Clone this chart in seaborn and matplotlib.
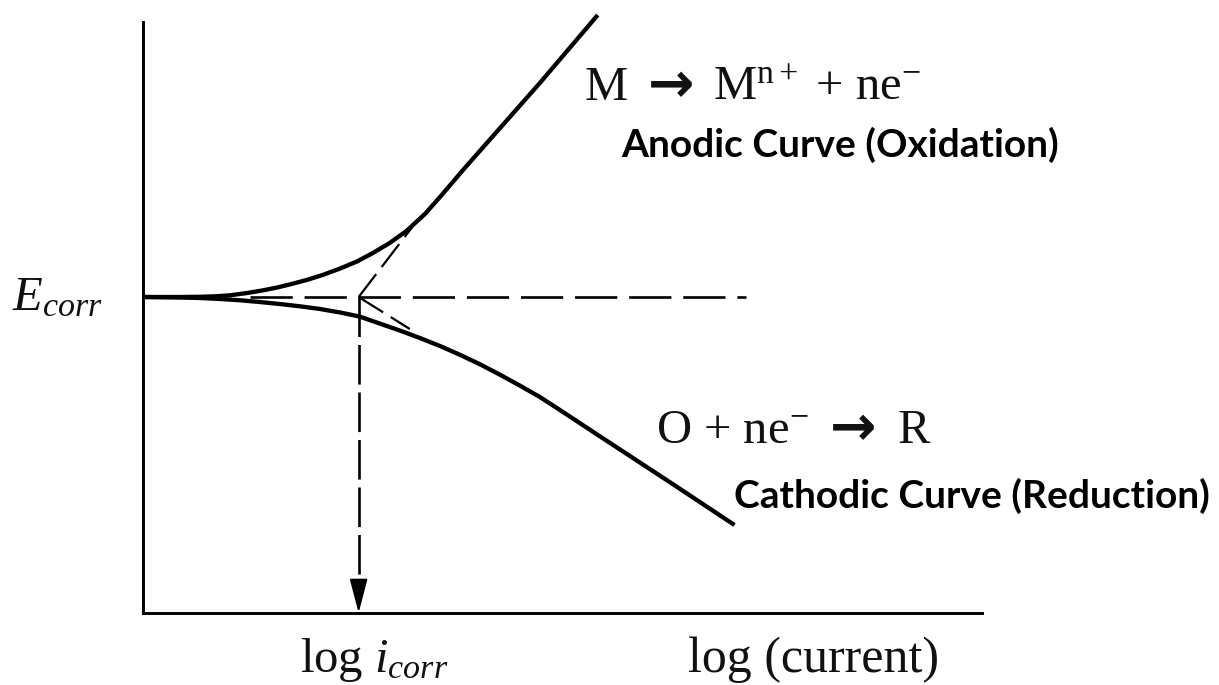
import matplotlib
matplotlib.use("Agg")
import matplotlib.pyplot as plt
import seaborn as sns

sns.set_theme(style="white")
plt.rcParams["mathtext.fontset"] = "custom"
plt.rcParams["mathtext.rm"] = "Liberation Serif"
plt.rcParams["mathtext.it"] = "Liberation Serif:italic"
plt.rcParams["mathtext.bf"] = "Liberation Serif:bold"

# Polarisation curves: x = log(current), y = potential relative to E_corr
anodic_x = [0.0, 0.44, 0.68, 0.86, 1.04, 1.24, 1.42, 1.60, 1.77, 1.95, 2.14,
            2.35, 2.55, 2.74, 2.94, 3.14, 3.36, 3.54, 3.83, 4.13, 4.73, 5.42]
anodic_y = [0.0, 0.0, 0.002, 0.007, 0.017, 0.04, 0.065, 0.095, 0.13, 0.17, 0.22,
            0.285, 0.355, 0.44, 0.54, 0.66, 0.83, 1.00, 1.285, 1.57, 2.14, 2.82]

cathodic_x = [0.0, 0.44, 0.68, 0.92, 1.16, 1.39, 1.63, 1.87, 2.11, 2.35, 2.58,
              2.82, 3.06, 3.30, 3.54, 3.77, 4.01, 4.25, 4.49, 4.73, 4.96, 5.44,
              6.24, 7.05]
cathodic_y = [0.0, -0.005, -0.01, -0.02, -0.033, -0.05, -0.07, -0.093, -0.12,
              -0.155, -0.195, -0.265, -0.335, -0.41, -0.49, -0.575, -0.67, -0.775,
              -0.885, -1.00, -1.125, -1.39, -1.83, -2.28]

e_corr = 0.0
log_i_corr = 2.57

# Tafel extrapolations back to the corrosion point
anodic_tafel_x = [log_i_corr, 3.21]
anodic_tafel_y = [e_corr, 0.70]
cathodic_tafel_x = [log_i_corr, 3.18]
cathodic_tafel_y = [e_corr, -0.32]

# Horizontal E_corr guide
ecorr_line_x = [1.27, 7.19]

x_lim = (0.0, 10.0)
y_lim = (-3.16, 2.75)

W, H = 1219, 685
fig = plt.figure(figsize=(W / 100, H / 100), dpi=100)
fig.patch.set_facecolor("white")
ax = fig.add_axes([143 / W, (H - 613) / H, (982 - 143) / W, (613 - 22) / H])
ax.set_facecolor("white")
ax.set_xlim(*x_lim)
ax.set_ylim(*y_lim)

curve_kw = dict(ax=ax, color="black", lw=3.1, sort=False, estimator=None,
                clip_on=False, solid_capstyle="butt", solid_joinstyle="round")
sns.lineplot(x=anodic_x, y=anodic_y, **curve_kw)
sns.lineplot(x=cathodic_x, y=cathodic_y, **curve_kw)

ax.plot(ecorr_line_x, [e_corr, e_corr], color="black", lw=1.9,
        linestyle=(0, (16, 4.5)))
ax.plot(anodic_tafel_x, anodic_tafel_y, color="black", lw=1.6,
        linestyle=(0, (13, 4)))
ax.plot(cathodic_tafel_x, cathodic_tafel_y, color="black", lw=1.6,
        linestyle=(0, (13, 4)))

# Vertical drop from the intersection to the current axis
arrow_start = y_lim[0] + 0.30
ax.plot([log_i_corr, log_i_corr], [e_corr, arrow_start], color="black", lw=1.9,
        linestyle=(0, (15, 3)))
ax.annotate("", xy=(log_i_corr, y_lim[0]), xytext=(log_i_corr, arrow_start),
            arrowprops=dict(arrowstyle="-|>,head_length=2.1,head_width=0.55",
                            color="black", lw=1.5, mutation_scale=10,
                            shrinkA=0, shrinkB=0))

for side in ["top", "right"]:
    ax.spines[side].set_visible(False)
for side in ["left", "bottom"]:
    ax.spines[side].set_color("black")
    ax.spines[side].set_linewidth(2.1)
ax.set_xticks([])
ax.set_yticks([])
ax.set_xlabel("")
ax.set_ylabel("")

serif = "Liberation Serif"
text_kw = dict(ha="left", va="baseline", clip_on=False, color="#111111")
arrow_kw = dict(family="DejaVu Sans", fontweight="bold", fontsize=40,
                ha="left", va="baseline", clip_on=False, color="#111111")
sans_bold = dict(family="Lato", fontweight="bold", fontsize=28, ha="left",
                 va="baseline", clip_on=False, color="black")

ax.text(-1.56, -0.13, r"$E_{corr}$", fontsize=35, **text_kw)
ax.text(1.87, -3.75, r"log $i_{corr}$", fontsize=35, family=serif, **text_kw)
ax.text(6.49, -3.75, "log (current)", fontsize=36, family=serif, **text_kw)

# Anodic half-reaction
ax.text(5.26, 1.97, "M", fontsize=35, family=serif, **text_kw)
ax.text(6.02, 1.95, "→", **arrow_kw)
ax.text(6.79, 1.97, r"M$^{\mathrm{n+}}$ + ne$^{\mathrm{-}}$", fontsize=35,
        family=serif, **text_kw)
ax.text(5.70, 1.40, "Anodic Curve (Oxidation)", **sans_bold)

# Cathodic half-reaction
ax.text(6.12, -1.46, r"O + ne$^{\mathrm{-}}$", fontsize=35, family=serif, **text_kw)
ax.text(8.19, -1.48, "→", **arrow_kw)
ax.text(8.99, -1.46, "R", fontsize=35, family=serif, **text_kw)
ax.text(7.05, -2.11, "Cathodic Curve (Reduction)", **sans_bold)

fig.savefig("out.png", dpi=100, facecolor="white")
